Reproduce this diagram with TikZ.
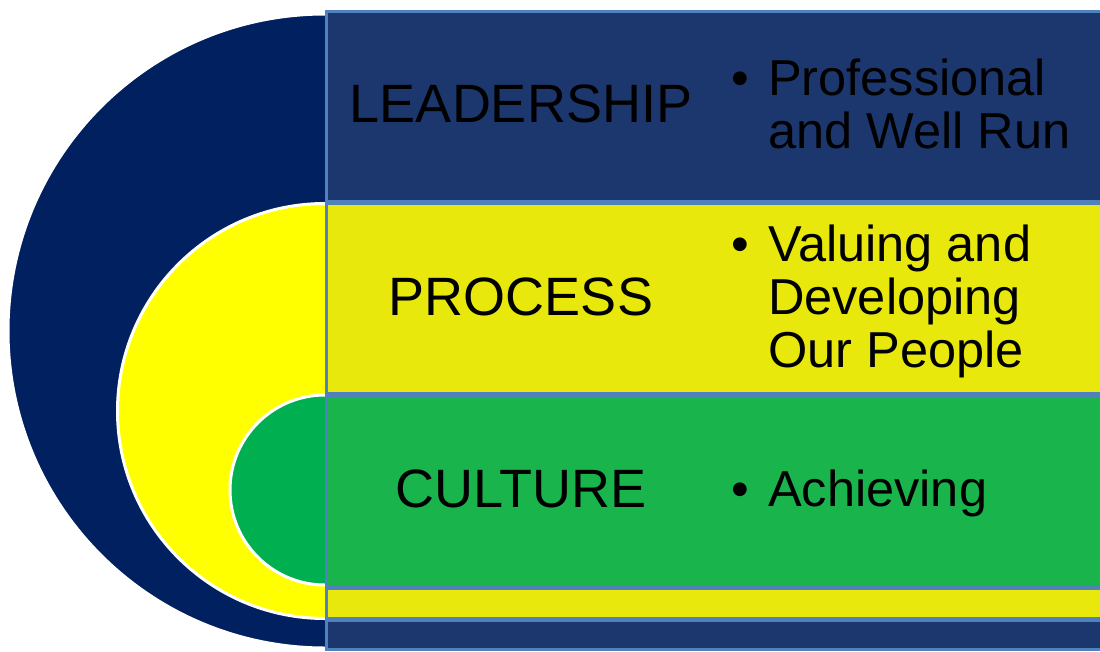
\documentclass[tikz,border=0pt]{standalone}
\usepackage{fontspec}
\setmainfont{Liberation Sans}

\definecolor{ringnavy}{RGB}{0,32,96}
\definecolor{ringyellow}{RGB}{255,255,0}
\definecolor{ringgreen}{RGB}{0,176,80}
\definecolor{bandnavy}{RGB}{28,54,110}
\definecolor{bandyellow}{RGB}{232,232,12}
\definecolor{bandgreen}{RGB}{26,180,76}
\definecolor{bandedge}{RGB}{79,129,189}

\tikzstyle{ring} = [draw=white, line width=3pt]
\tikzstyle{band} = [draw=bandedge, line width=2.8pt]
\tikzstyle{heading} = [inner sep=0pt, text=black, font=\fontsize{54}{60}\selectfont]
\tikzstyle{points} = [inner sep=0pt, anchor=base west, text=black, font=\fontsize{50.5}{53}\selectfont]

\begin{document}
\begin{tikzpicture}[x=1pt, y=-1pt]
		\useasboundingbox (0,0) rectangle (1100,651);

		% half rings, right halves hidden under the bands
		\draw [ring, fill=ringnavy] (325,331) circle (317pt);
		\draw [ring, fill=ringyellow] (325,411) circle (207.5pt);
		\draw [ring, fill=ringgreen] (325,490) circle (95pt);

		% bands
		\draw [band, fill=bandnavy] (326.5,11.5) rectangle (1110,201.5);
		\draw [band, fill=bandyellow] (326.5,204) rectangle (1110,393.5);
		\draw [band, fill=bandgreen] (326.5,396) rectangle (1110,586.5);
		\draw [band, fill=bandyellow] (326.5,589) rectangle (1110,618.5);
		\draw [band, fill=bandnavy] (326.5,621) rectangle (1110,649.5);

		\node (leadership) [heading] at (521,104) {LEADERSHIP};
		\node (process) [heading] at (521,297) {PROCESS};
		\node (culture) [heading] at (521,489) {CULTURE};

		\node (leadpoints) [points] at (731.2,95) {\begin{tabular}[t]{@{}p{36.8pt}@{}l@{}}\textbullet & Professional\\ & and Well Run\end{tabular}};
		\node (processpoints) [points] at (731.2,261) {\begin{tabular}[t]{@{}p{36.8pt}@{}l@{}}\textbullet & Valuing and\\ & Developing\\ & Our People\end{tabular}};
		\node (culturepoints) [points] at (731.2,506) {\begin{tabular}[t]{@{}p{36.8pt}@{}l@{}}\textbullet & Achieving\end{tabular}};
	\end{tikzpicture}
\end{document}
